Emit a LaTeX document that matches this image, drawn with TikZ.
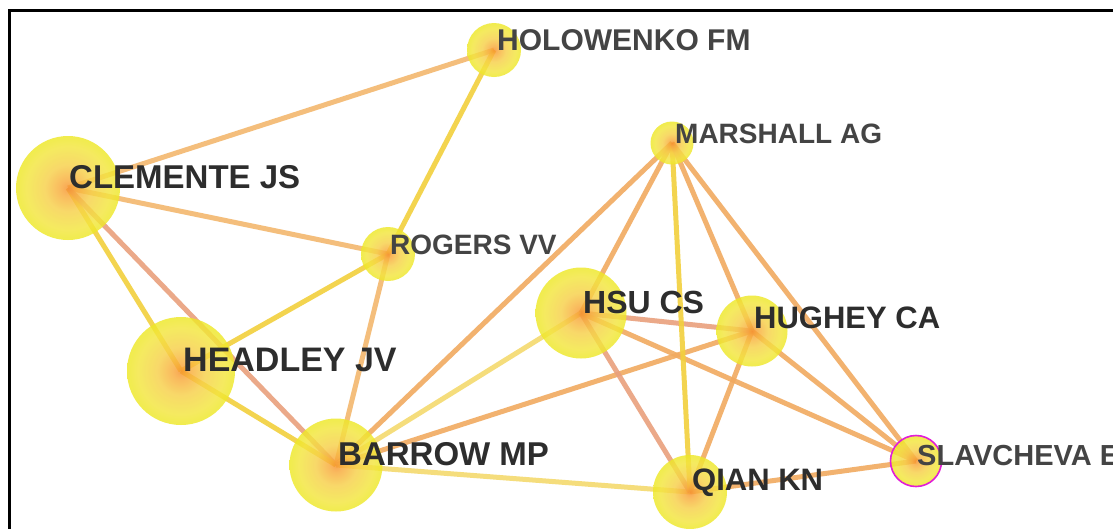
\documentclass[tikz,border=0pt]{standalone}
\usepackage{fontspec}
\setmainfont{Liberation Sans}
\pgfdeclarelayer{bottom}
\pgfdeclarelayer{background}
\pgfsetlayers{bottom,background,main}
\definecolor{cA}{RGB}{247,145,45}
\definecolor{cB}{RGB}{248,172,60}
\definecolor{cC}{RGB}{247,208,72}
\definecolor{cD}{RGB}{243,230,62}
\definecolor{cE}{RGB}{238,232,38}
\pgfdeclareradialshading{nodeball}{\pgfpoint{0bp}{0bp}}{color(0bp)=(cA); color(4bp)=(cB); color(11bp)=(cC); color(20bp)=(cD); color(25bp)=(cE); color(50bp)=(cE)}
\definecolor{eYel}{RGB}{242,208,60}
\definecolor{eLYel}{RGB}{245,218,110}
\definecolor{eLOr}{RGB}{243,184,110}
\definecolor{eOr}{RGB}{241,170,96}
\definecolor{eSal}{RGB}{233,160,125}
\definecolor{txtD}{RGB}{45,45,45}
\definecolor{txtL}{RGB}{68,68,68}
\definecolor{mag}{RGB}{225,30,215}
\tikzset{
  ball/.style={circle, shading=nodeball, fill opacity=0.82, draw=none, inner sep=0pt},
  lab/.style={anchor=base west, inner sep=0pt, font=\bfseries\fontsize{#1}{#1}\selectfont},
  edge/.style={line width=5pt, draw=#1, draw opacity=0.9},
}
\begin{document}
\begin{tikzpicture}[x=1pt,y=-1pt]
\useasboundingbox (0,0) rectangle (1113,528);
\begin{pgfonlayer}{bottom}
\fill[white] (0,0) rectangle (1113,528);
\end{pgfonlayer}
% nodes
\node[ball, minimum size=104pt] (clem) at (68,188) {};
\node[ball, minimum size=54pt] (holo) at (494,50) {};
\node[ball, minimum size=54pt] (rog) at (388,254) {};
\node[ball, minimum size=43pt] (mars) at (672,143) {};
\node[ball, minimum size=91pt] (hsu) at (581,313) {};
\node[ball, minimum size=71pt] (hug) at (752,331) {};
\node[ball, minimum size=108pt] (head) at (181,371) {};
\node[ball, minimum size=93pt] (bar) at (336,465) {};
\node[ball, minimum size=74pt] (qian) at (690,492) {};
\node[ball, minimum size=51pt, draw=mag, line width=1.6pt, draw opacity=1] (slav) at (916,461) {};
% edges
\begin{pgfonlayer}{background}
\draw[edge=eLOr] (clem.center) -- (holo.center);
\draw[edge=eLOr] (clem.center) -- (rog.center);
\draw[edge=eYel] (clem.center) -- (head.center);
\draw[edge=eSal] (clem.center) -- (bar.center);
\draw[edge=eYel] (holo.center) -- (rog.center);
\draw[edge=eYel] (rog.center) -- (head.center);
\draw[edge=eLOr] (rog.center) -- (bar.center);
\draw[edge=eYel] (head.center) -- (bar.center);
\draw[edge=eOr] (bar.center) -- (mars.center);
\draw[edge=eLYel] (bar.center) -- (hsu.center);
\draw[edge=eOr] (bar.center) -- (hug.center);
\draw[edge=eLYel] (bar.center) -- (qian.center);
\draw[edge=eOr] (hsu.center) -- (mars.center);
\draw[edge=eSal] (hsu.center) -- (hug.center);
\draw[edge=eSal] (hsu.center) -- (qian.center);
\draw[edge=eOr] (hsu.center) -- (slav.center);
\draw[edge=eYel] (mars.center) -- (qian.center);
\draw[edge=eOr] (mars.center) -- (hug.center);
\draw[edge=eOr] (mars.center) -- (slav.center);
\draw[edge=eOr] (hug.center) -- (qian.center);
\draw[edge=eOr] (hug.center) -- (slav.center);
\draw[edge=eOr] (qian.center) -- (slav.center);
\end{pgfonlayer}
% labels
\node[lab=33, text=txtD] (clemL) at ([xshift=1pt]clem.center) {CLEMENTE JS};
\node[lab=30, text=txtL] (holoL) at ([xshift=3pt]holo.center) {HOLOWENKO FM};
\node[lab=28, text=txtL] (rogL) at ([xshift=2pt]rog.center) {ROGERS VV};
\node[lab=28, text=txtL] (marsL) at ([xshift=3pt]mars.center) {MARSHALL AG};
\node[lab=32, text=txtD] (hsuL) at ([xshift=2pt]hsu.center) {HSU CS};
\node[lab=31, text=txtD] (hugL) at ([xshift=2pt, yshift=3pt]hug.center) {HUGHEY CA};
\node[lab=34, text=txtD] (headL) at ([xshift=2pt]head.center) {HEADLEY JV};
\node[lab=33, text=txtD] (barL) at ([xshift=2pt]bar.center) {BARROW MP};
\node[lab=31, text=txtD] (qianL) at ([xshift=2pt, yshift=2pt]qian.center) {QIAN KN};
\node[lab=29, text=txtL] (slavL) at ([xshift=1pt, yshift=-4pt]slav.center) {SLAVCHEVA E};
% frame
\draw[line width=2.2pt, black] (9.5,530) -- (9.5,10.5) -- (1115,10.5);
\end{tikzpicture}
\end{document}
